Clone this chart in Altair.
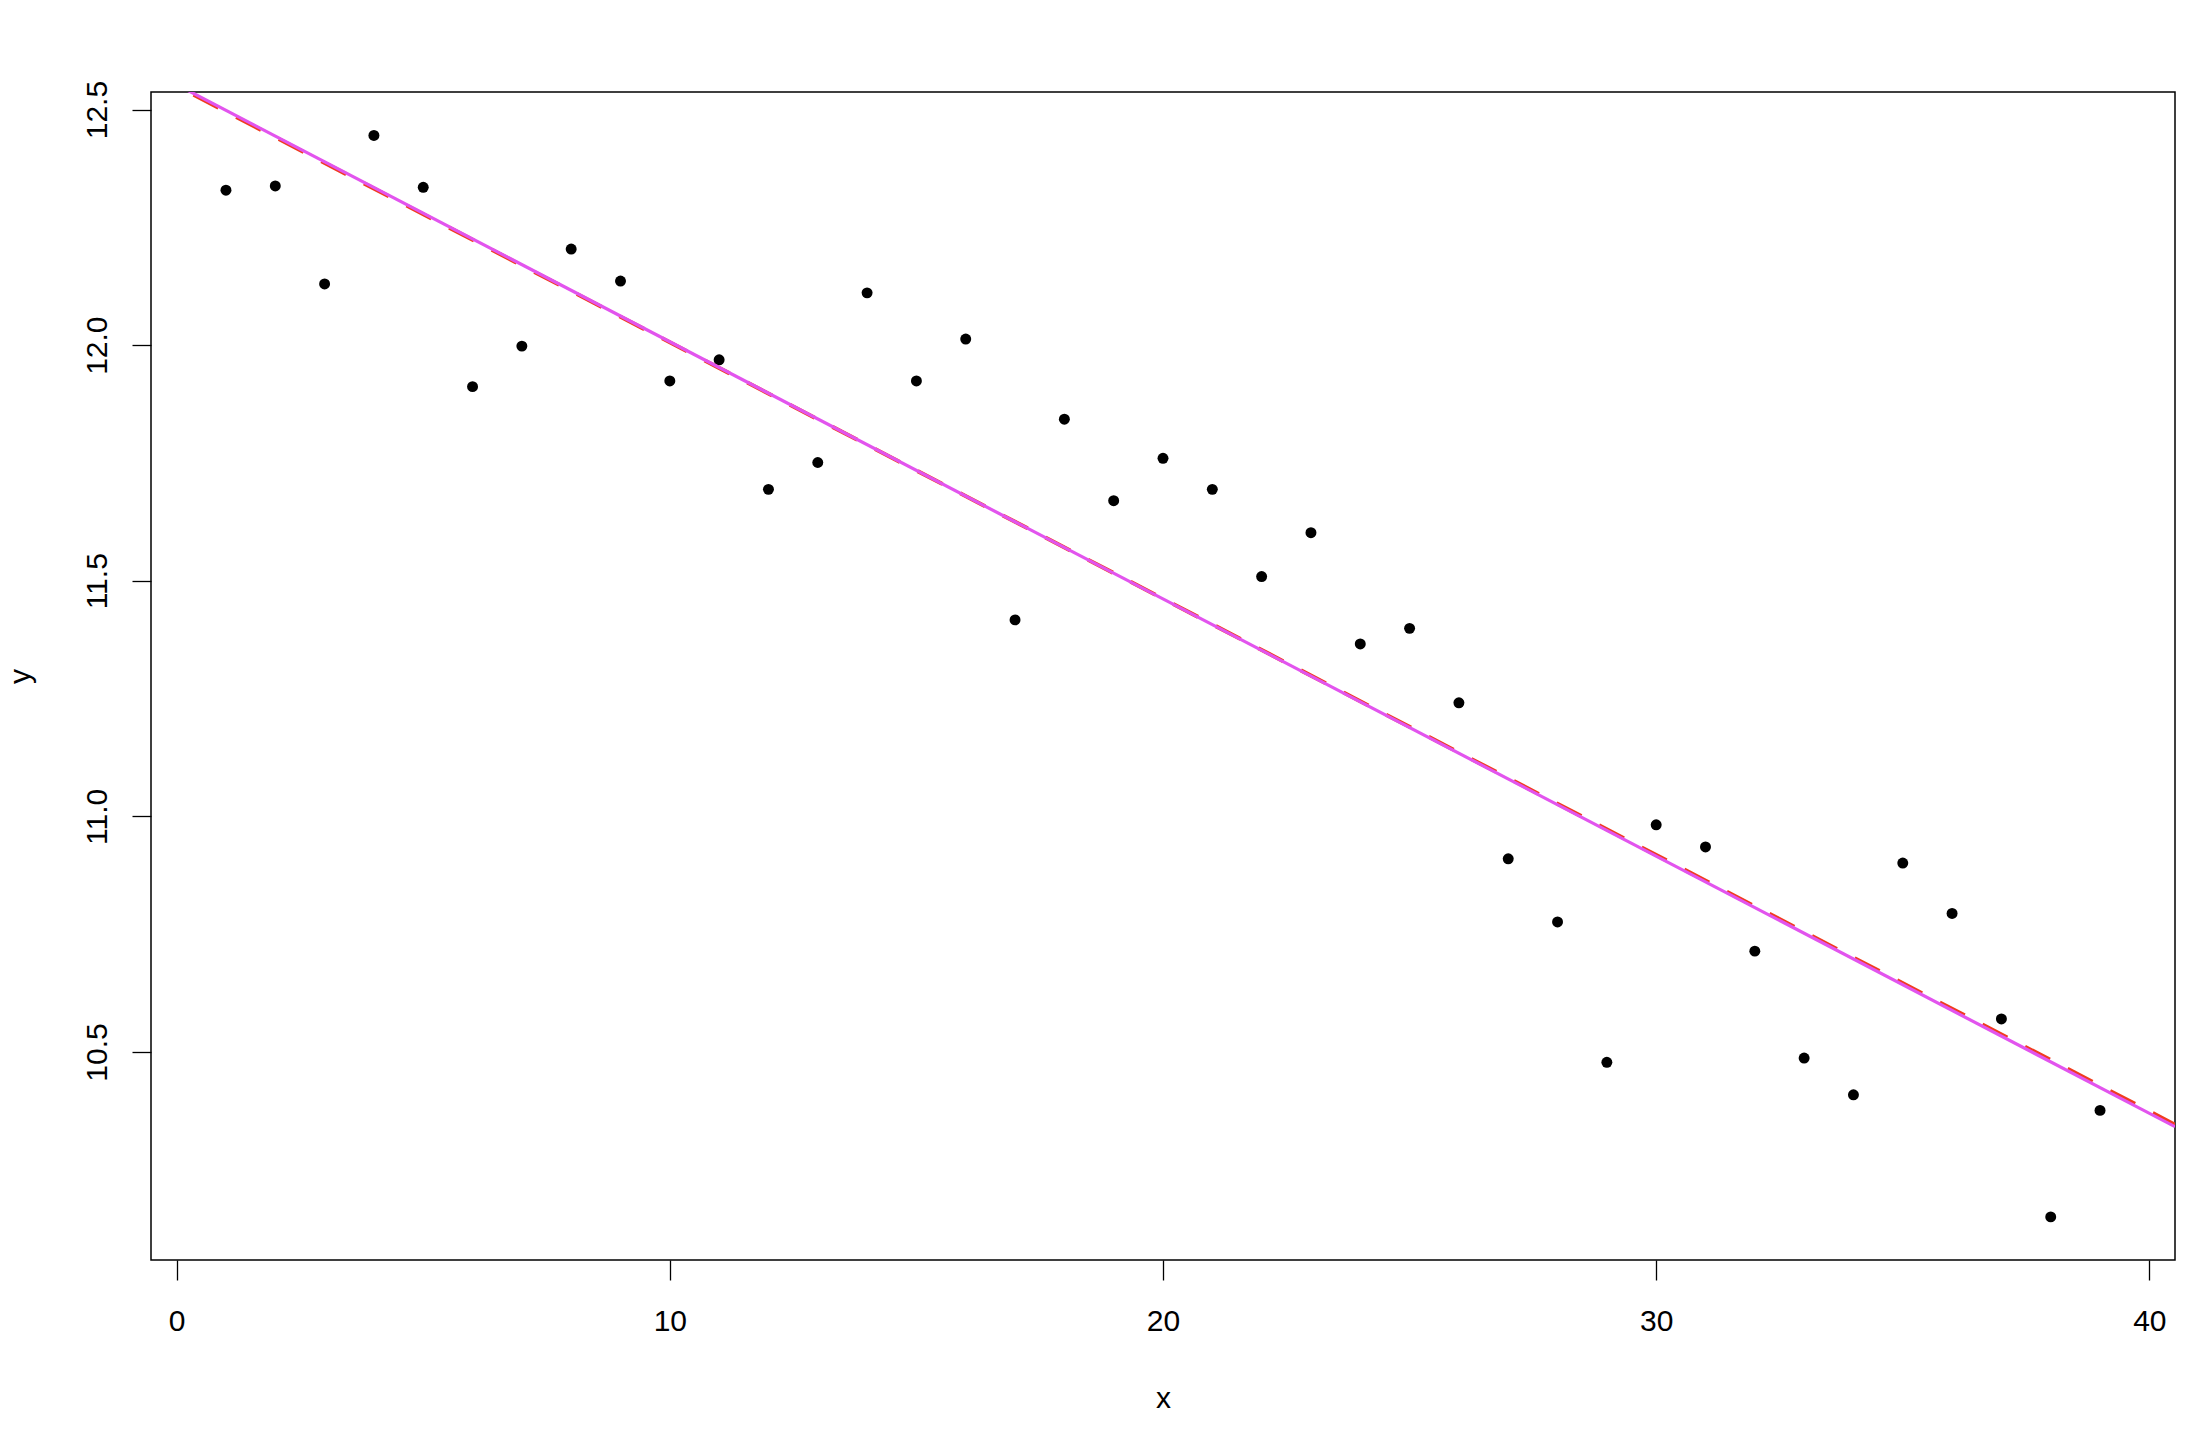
import altair as alt
import pandas as pd

xs = list(range(1, 40))
ys = [12.329, 12.338, 12.130, 12.445, 12.335, 11.912, 11.998, 12.204, 12.136, 11.924,
      11.969, 11.694, 11.751, 12.111, 11.924, 12.013, 11.417, 11.843, 11.670, 11.760,
      11.694, 11.509, 11.602, 11.366, 11.399, 11.241, 10.910, 10.776, 10.478, 10.982,
      10.935, 10.714, 10.487, 10.409, 10.901, 10.794, 10.570, 10.150, 10.376]

x_ticks = [0, 10, 20, 30, 40]
y_ticks = [10.5, 11.0, 11.5, 12.0, 12.5]

# fitted lines: (intercept, slope)
fit_red = (12.550, -0.05440)
fit_magenta = (12.553, -0.05458)

x_domain = [-0.52, 40.52]
y_domain = [10.0585, 12.5373]

pts = pd.DataFrame({"x": xs, "y": ys})

def line_df(fit):
    a, b = fit
    return pd.DataFrame({"x": x_domain, "y": [a + b * x_domain[0], a + b * x_domain[1]]})

FONT = "Liberation Sans"
FS = 30

xscale = alt.Scale(domain=x_domain, nice=False, zero=False)
yscale = alt.Scale(domain=y_domain, nice=False, zero=False)

xaxis = alt.Axis(values=x_ticks, title="x", grid=False, domain=False, tickSize=20,
                 tickColor="black", tickWidth=1.3, labelFont=FONT, labelFontSize=FS,
                 labelColor="black", labelPadding=26, titleFont=FONT, titleFontSize=FS,
                 titleFontWeight="normal", titleColor="black", titleBaseline="alphabetic",
                 titleY=147, labelFlush=False, format="d")
yaxis = alt.Axis(values=y_ticks, title="y", grid=False, domain=False, tickSize=19,
                 tickColor="black", tickWidth=1.3, labelFont=FONT, labelFontSize=FS,
                 labelColor="black", labelAngle=270, labelAlign="center",
                 labelBaseline="alphabetic", labelPadding=26, format=".1f",
                 labelFlush=False, titleFont=FONT, titleFontSize=FS,
                 titleFontWeight="normal", titleColor="black", titleAngle=270,
                 titleAlign="center", titleBaseline="alphabetic", titleX=-122, titleY=584)

points = alt.Chart(pts).mark_circle(size=120, color="black", opacity=1).encode(
    x=alt.X("x:Q", scale=xscale, axis=xaxis),
    y=alt.Y("y:Q", scale=yscale, axis=yaxis),
)

red = alt.Chart(line_df(fit_red)).mark_line(color="#F03C1E", strokeWidth=4,
                                              strokeDash=[28, 20], clip=True).encode(
    x=alt.X("x:Q", scale=xscale), y=alt.Y("y:Q", scale=yscale))
mag = alt.Chart(line_df(fit_magenta)).mark_line(color="#E254EE", strokeWidth=3.2,
                                                  clip=True).encode(
    x=alt.X("x:Q", scale=xscale), y=alt.Y("y:Q", scale=yscale))

chart = alt.layer(points, red, mag).properties(
    width=2024, height=1168,
    autosize=alt.AutoSizeParams(type="none"),
    padding={"left": 143, "top": 84, "right": 20, "bottom": 170},
    background="white",
).configure_view(stroke="black", strokeWidth=1.5)

chart.save("out.html", embed_options={"renderer": "svg", "actions": False})
